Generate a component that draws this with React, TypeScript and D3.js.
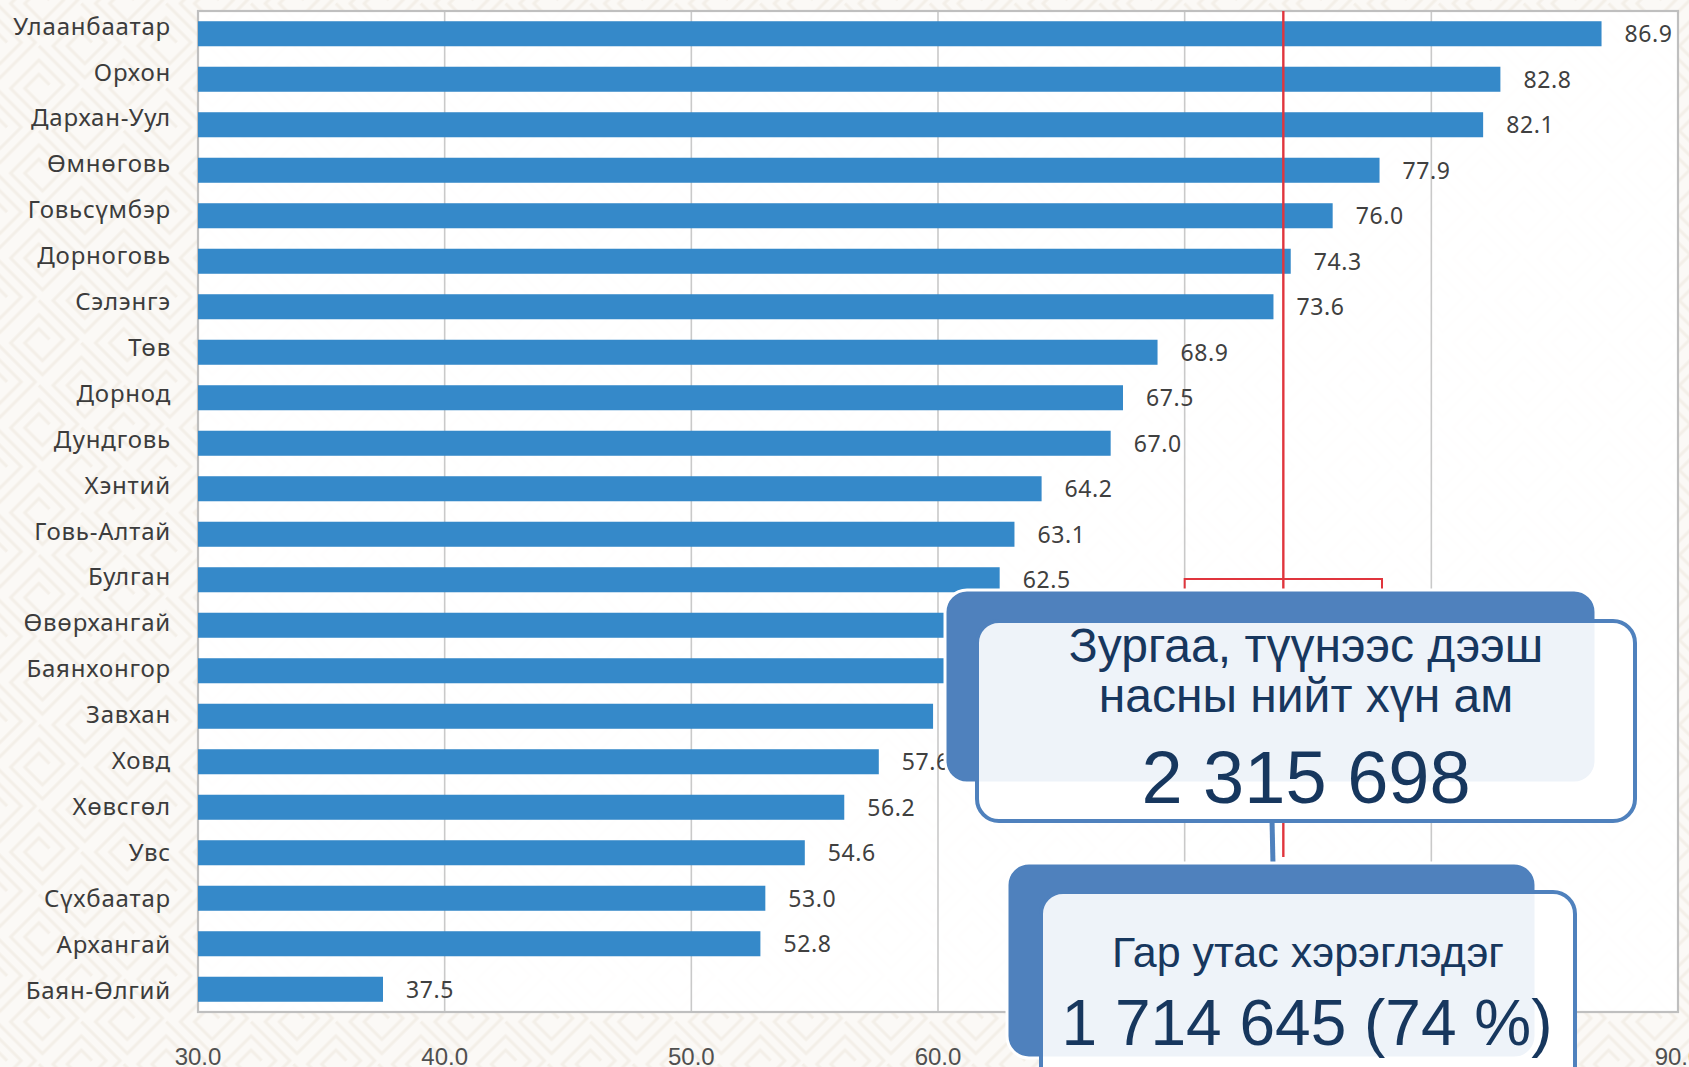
import React from "react";
import * as d3 from "d3";

const categories = [
  "Улаанбаатар", "Орхон", "Дархан-Уул", "Өмнөговь", "Говьсүмбэр", "Дорноговь",
  "Сэлэнгэ", "Төв", "Дорнод", "Дундговь", "Хэнтий", "Говь-Алтай", "Булган",
  "Өвөрхангай", "Баянхонгор", "Завхан", "Ховд", "Хөвсгөл", "Увс", "Сүхбаатар",
  "Архангай", "Баян-Өлгий",
];
const values = [
  86.9, 82.8, 82.1, 77.9, 76.0, 74.3, 73.6, 68.9, 67.5, 67.0, 64.2, 63.1, 62.5,
  61.1, 60.4, 59.8, 57.6, 56.2, 54.6, 53.0, 52.8, 37.5,
];
const xTicks = [30, 40, 50, 60, 70, 80, 90];
const referenceValue = 74;
const bracketRange = [70, 78];
const box1Lines = ["Зургаа, түүнээс дээш", "насны нийт хүн ам"];
const box1Number = "2 315 698";
const box2Line = "Гар утас хэрэглэдэг";
const box2Number = "1 714 645 (74 %)";

const W = 1689;
const H = 1067;
const plot = { left: 198, right: 1678, top: 11, bottom: 1012 };

export default function App() {
  const x = d3.scaleLinear().domain([30, 90]).range([plot.left, plot.right]);
  const y = d3
    .scaleBand<string>()
    .domain(categories)
    .range([plot.top, plot.bottom])
    .paddingInner(0.45)
    .paddingOuter(0.225);
  // category labels sit on a slightly different rhythm than the bars
  const yLabel = d3
    .scalePoint<string>()
    .domain(categories)
    .range([26, 990]);
  const bw = y.bandwidth();
  const catFont = "'Noto Sans', 'DejaVu Sans', sans-serif";
  const numFont = "'Liberation Sans', Arial, sans-serif";
  const navy = "#17375e";
  const boxBlue = "#4f81bd";
  const red = "#e0353d";
  const gridColor = "#c9c9c9";
  const xr = x(referenceValue);
  const bracketY = 579;

  const box1Back = { x: 945, y: 590, w: 651, h: 193 };
  const box1Front = { x: 977, y: 621, w: 658, h: 200 };
  const box2Back = { x: 1007, y: 863, w: 529, h: 195 };
  const box2Front = { x: 1041, y: 892, w: 534, h: 220 };

  return (
    <svg
      width={W}
      height={H}
      style={{ position: "absolute", left: 0, top: 0, display: "block" }}
      xmlns="http://www.w3.org/2000/svg"
    >
      <defs>
        <pattern
          id="fret"
          width="60"
          height="60"
          patternUnits="userSpaceOnUse"
          patternTransform="rotate(45)"
        >
          <path
            d="M0 5 H55 V55 H10 V15 H45 V45 H20 V25 H35"
            fill="none"
            stroke="#ede6dc"
            strokeWidth="3"
          />
        </pattern>
      </defs>
      <rect x={0} y={0} width={W} height={H} fill="#fbf9f6" />
      <rect x={0} y={0} width={W} height={H} fill="url(#fret)" opacity={0.55} />
      <rect
        x={plot.left}
        y={plot.top}
        width={plot.right - plot.left}
        height={plot.bottom - plot.top}
        fill="#ffffff"
        opacity={0.92}
      />
      {xTicks.slice(1, -1).map((t) => (
        <line
          key={t}
          x1={x(t)}
          x2={x(t)}
          y1={plot.top}
          y2={plot.bottom}
          stroke={gridColor}
          strokeWidth={1.6}
        />
      ))}
      <rect
        x={plot.left}
        y={plot.top}
        width={plot.right - plot.left}
        height={plot.bottom - plot.top}
        fill="none"
        stroke="#bfbfbf"
        strokeWidth={2.2}
      />
      {categories.map((c, i) => (
        <rect
          key={c}
          x={x(30)}
          y={y(c)}
          width={x(values[i]) - x(30)}
          height={bw}
          fill="#3589c9"
        />
      ))}
      {categories.map((c) => (
        <text
          key={c}
          x={171}
          y={yLabel(c)}
          dy="0.36em"
          textAnchor="end"
          fontFamily={catFont}
          fontSize={24}
          letterSpacing={0.8}
          fill="#3c3c3c"
        >
          {c}
        </text>
      ))}
      {categories.map((c, i) => (
        <text
          key={c}
          x={x(values[i]) + 23}
          y={(y(c) as number) + bw / 2}
          dy="0.36em"
          fontFamily={catFont}
          fontSize={23}
          letterSpacing={0.6}
          fill="#404040"
        >
          {values[i].toFixed(1)}
        </text>
      ))}
      {xTicks.map((t) => (
        <text
          key={t}
          x={x(t)}
          y={1065}
          textAnchor="middle"
          fontFamily={numFont}
          fontSize={24}
          fill="#505050"
        >
          {t.toFixed(1)}
        </text>
      ))}
      <line x1={xr} x2={xr} y1={plot.top} y2={857} stroke={red} strokeWidth={2.4} />
      <path
        d={`M${x(bracketRange[0])} ${bracketY + 12} V${bracketY} H${x(bracketRange[1])} V${bracketY + 12}`}
        fill="none"
        stroke={red}
        strokeWidth={2}
      />
      <line x1={1272} x2={1273} y1={819} y2={865} stroke={boxBlue} strokeWidth={5} />

      {/* upper box */}
      <rect x={box1Front.x} y={box1Front.y} width={box1Front.w} height={box1Front.h} rx={22} fill="#ffffff" />
      <rect x={box1Back.x} y={box1Back.y} width={box1Back.w} height={box1Back.h} rx={22} fill={boxBlue} stroke="#ffffff" strokeWidth={3} />
      <rect x={box1Front.x} y={box1Front.y} width={box1Front.w} height={box1Front.h} rx={22} fill="#ffffff" fillOpacity={0.9} stroke={boxBlue} strokeWidth={4} />
      {box1Lines.map((l, i) => (
        <text
          key={l}
          x={1306}
          y={662 + i * 50}
          textAnchor="middle"
          fontFamily={numFont}
          fontSize={48}
          fill={navy}
        >
          {l}
        </text>
      ))}
      <text x={1306} y={803} textAnchor="middle" fontFamily={numFont} fontSize={74} fill={navy}>
        {box1Number}
      </text>

      {/* lower box */}
      <rect x={box2Front.x} y={box2Front.y} width={box2Front.w} height={box2Front.h} rx={22} fill="#ffffff" />
      <rect x={box2Back.x} y={box2Back.y} width={box2Back.w} height={box2Back.h} rx={22} fill={boxBlue} stroke="#ffffff" strokeWidth={3} />
      <rect x={box2Front.x} y={box2Front.y} width={box2Front.w} height={box2Front.h} rx={22} fill="#ffffff" fillOpacity={0.9} stroke={boxBlue} strokeWidth={4} />
      <text x={1308} y={967} textAnchor="middle" fontFamily={numFont} fontSize={43} fill={navy}>
        {box2Line}
      </text>
      <text x={1307} y={1045} textAnchor="middle" fontFamily={numFont} fontSize={64} fill={navy}>
        {box2Number}
      </text>
    </svg>
  );
}
